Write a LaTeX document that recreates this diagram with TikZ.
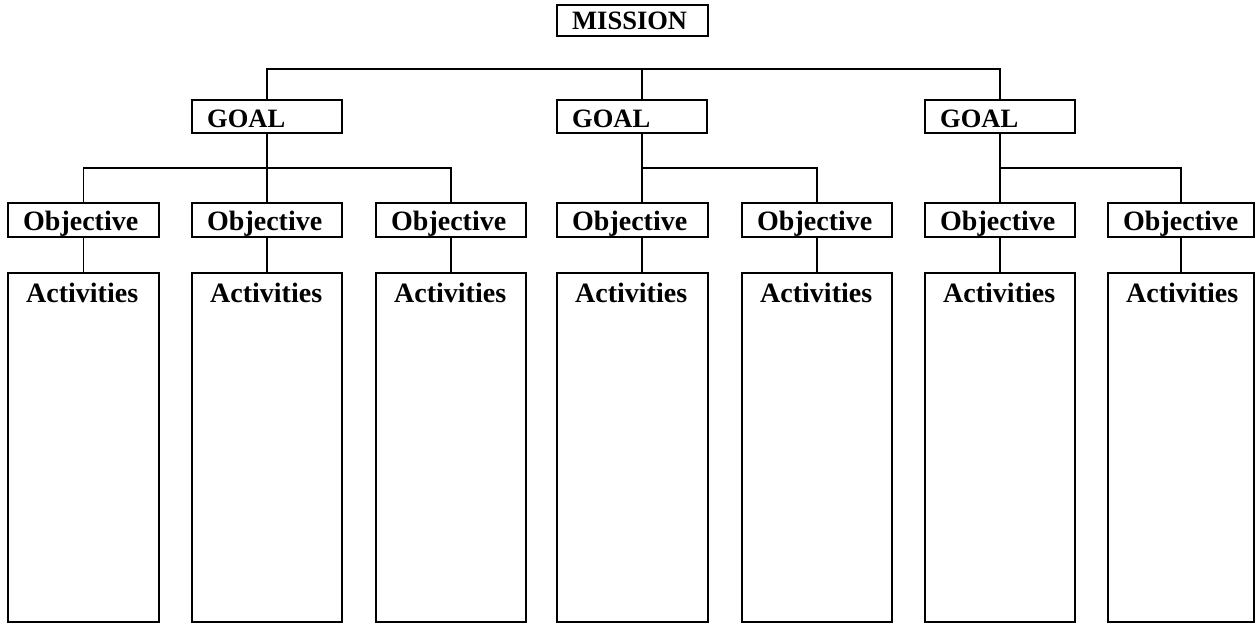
\documentclass[tikz,border=0pt]{standalone}
\usepackage{fontspec}
\setmainfont{Liberation Serif}
\begin{document}
\begin{tikzpicture}[x=1pt,y=-1pt,
  box/.style={draw, line width=1.8pt, inner sep=0pt, outer sep=0pt, anchor=north west, minimum width=151pt},
  conn/.style={line width=1.8pt}]
\useasboundingbox (0,0) rectangle (1255,624);
\def\capf{\fontsize{26.5}{28}\selectfont\bfseries}
\def\smf{\fontsize{28}{30}\selectfont\bfseries}
% mission
\node[box, minimum width=151pt, minimum height=31pt,
  label={[anchor=base west, inner sep=0pt, xshift=15pt, yshift=-24pt, font=\capf]north west:MISSION}] (mission) at (557,5) {};
% goals
\foreach \n/\x in {goal1/192, goal2/557, goal3/925}{
  \node[box, minimum width=150pt, minimum height=33pt,
    label={[anchor=base west, inner sep=0pt, xshift=15pt, yshift=-27pt, font=\capf]north west:GOAL}] (\n) at (\x,100) {};
}
% objectives and activities
\foreach \i/\x/\w in {1/8/151, 2/192/150, 3/376/150, 4/557/151, 5/742/150, 6/925/150, 7/1108/146}{
  \node[box, minimum width=\w pt, minimum height=34pt,
    label={[anchor=base west, inner sep=0pt, xshift=15pt, yshift=-27pt, font=\smf]north west:Objective}] (obj\i) at (\x,203) {};
  \node[box, minimum width=\w pt, minimum height=349pt,
    label={[anchor=base west, inner sep=0pt, xshift=18pt, yshift=-29pt, font=\smf]north west:Activities}] (act\i) at (\x,273) {};
}
% mission level bar
\coordinate (mbar) at (642,69);
\draw[conn] (goal1.north) |- (mbar) -| (goal3.north);
\draw[conn] (mbar) -- (mbar |- goal2.north);
% goal 1
\coordinate (g1b) at (267,168);
\draw[conn] (g1b |- goal1.south) -- (g1b);
\draw[conn] (obj1.north) |- (g1b) -| (obj3.north);
\draw[conn] (g1b) -- (g1b |- obj2.north);
% goal 2
\coordinate (g2b) at (642,168);
\draw[conn] (g2b |- goal2.south) -- (g2b |- obj4.north);
\draw[conn] (g2b) -| (obj5.north);
% goal 3
\coordinate (g3b) at (1000,168);
\draw[conn] (g3b |- goal3.south) -- (g3b |- obj6.north);
\draw[conn] (g3b) -| (obj7.north);
% objective to activities
\foreach \i in {1,2,3,5,6,7}{
  \draw[conn] (obj\i.south) -- (act\i.north);
}
\coordinate (o4) at (642,237);
\draw[conn] (o4 |- obj4.south) -- (o4 |- act4.north);
\end{tikzpicture}
\end{document}
